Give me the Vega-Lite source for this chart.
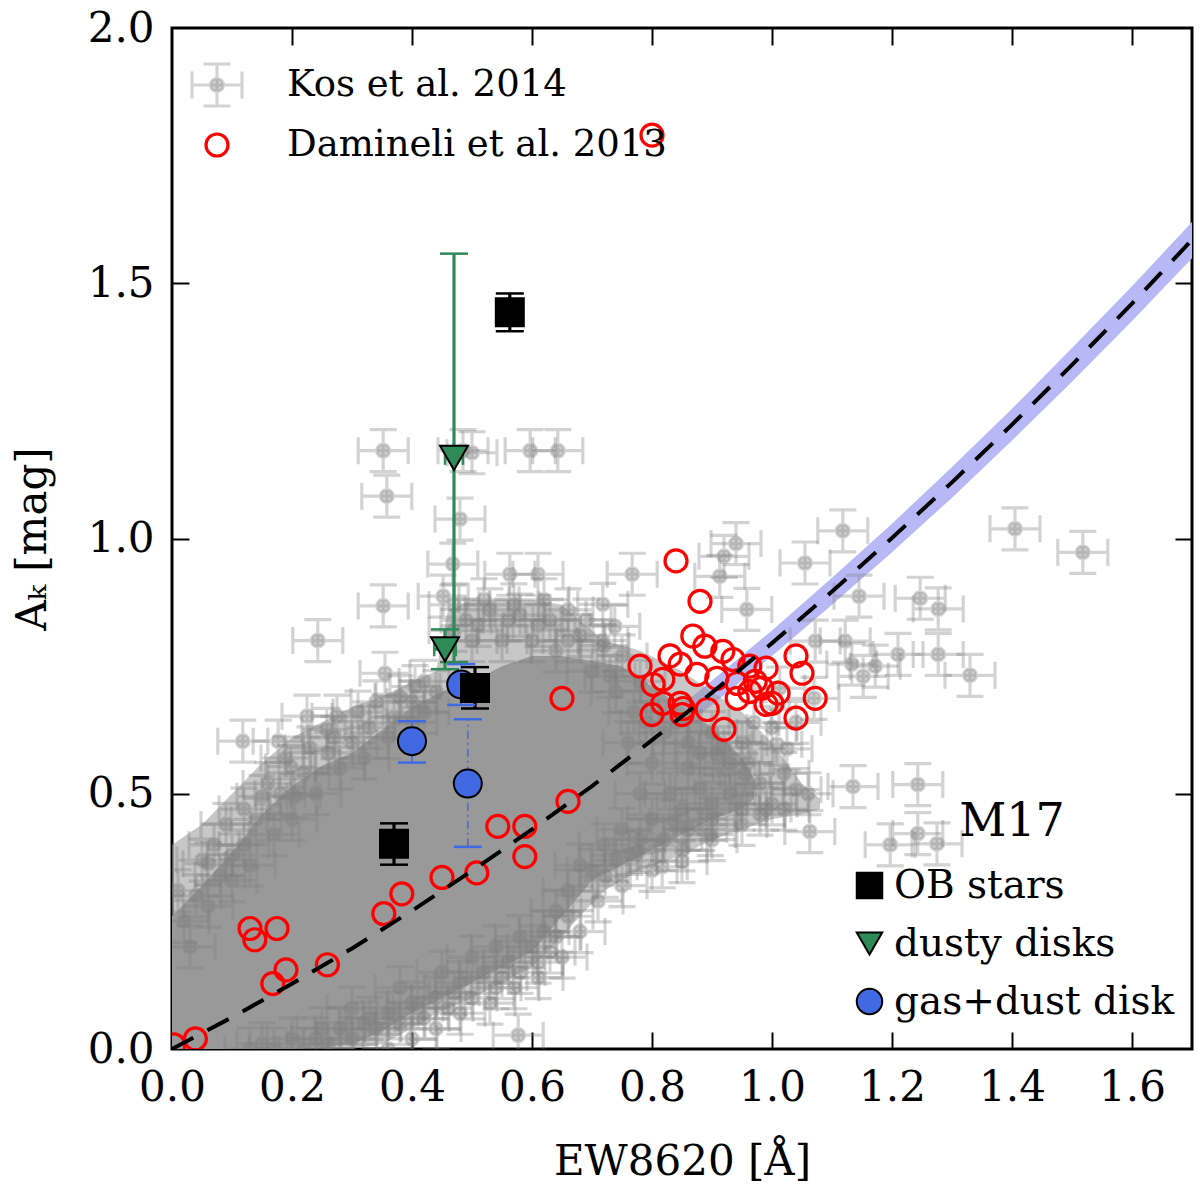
{
  "$schema": "https://vega.github.io/schema/vega-lite/v6.json",
  "width": 1020,
  "height": 1021,
  "autosize": "none",
  "padding": {"left": 172, "top": 28, "right": 8, "bottom": 141},
  "background": "white",
  "config": {
    "view": {"stroke": "black", "strokeWidth": 3},
    "font": "DejaVu Serif",
    "axis": {
      "domain": false, "grid": false,
      "labelFont": "DejaVu Serif", "labelFontSize": 42, "labelColor": "black",
      "labelFlush": false, "labelOverlap": false,
      "tickColor": "black", "tickWidth": 2, "tickSize": 17,
      "labelPadding": 18,
      "titleFont": "DejaVu Serif", "titleFontSize": 42, "titleFontWeight": "normal", "titleColor": "black"
    }
  },
  "datasets": {
    "band": [
      {"x": 0, "fit": 0, "lo": 0, "hi": 0.01},
      {"x": 0.1, "fit": 0.062, "lo": 0.05, "hi": 0.074},
      {"x": 0.2, "fit": 0.128, "lo": 0.115, "hi": 0.141},
      {"x": 0.3, "fit": 0.197, "lo": 0.183, "hi": 0.212},
      {"x": 0.4, "fit": 0.271, "lo": 0.255, "hi": 0.287},
      {"x": 0.5, "fit": 0.349, "lo": 0.331, "hi": 0.367},
      {"x": 0.6, "fit": 0.43, "lo": 0.411, "hi": 0.449},
      {"x": 0.7, "fit": 0.515, "lo": 0.495, "hi": 0.536},
      {"x": 0.8, "fit": 0.605, "lo": 0.583, "hi": 0.627},
      {"x": 0.9, "fit": 0.698, "lo": 0.674, "hi": 0.722},
      {"x": 1.0, "fit": 0.795, "lo": 0.77, "hi": 0.82},
      {"x": 1.1, "fit": 0.896, "lo": 0.87, "hi": 0.923},
      {"x": 1.2, "fit": 1.001, "lo": 0.973, "hi": 1.029},
      {"x": 1.3, "fit": 1.11, "lo": 1.08, "hi": 1.14},
      {"x": 1.4, "fit": 1.223, "lo": 1.192, "hi": 1.254},
      {"x": 1.5, "fit": 1.34, "lo": 1.307, "hi": 1.373},
      {"x": 1.6, "fit": 1.46, "lo": 1.426, "hi": 1.494},
      {"x": 1.7, "fit": 1.585, "lo": 1.549, "hi": 1.62}
    ],
    "halo": [
      {"x": 0.0, "lo": 0.0, "hi": 0.40},
      {"x": 0.05, "lo": 0.0, "hi": 0.44},
      {"x": 0.10, "lo": 0.0, "hi": 0.50},
      {"x": 0.15, "lo": 0.0, "hi": 0.56},
      {"x": 0.20, "lo": 0.0, "hi": 0.61},
      {"x": 0.25, "lo": 0.0, "hi": 0.64},
      {"x": 0.30, "lo": 0.0, "hi": 0.67},
      {"x": 0.35, "lo": 0.01, "hi": 0.69},
      {"x": 0.40, "lo": 0.04, "hi": 0.72},
      {"x": 0.44, "lo": 0.07, "hi": 0.74},
      {"x": 0.46, "lo": 0.08, "hi": 0.86},
      {"x": 0.50, "lo": 0.10, "hi": 0.88},
      {"x": 0.55, "lo": 0.13, "hi": 0.88},
      {"x": 0.60, "lo": 0.16, "hi": 0.88},
      {"x": 0.65, "lo": 0.22, "hi": 0.87},
      {"x": 0.68, "lo": 0.26, "hi": 0.84},
      {"x": 0.72, "lo": 0.31, "hi": 0.80},
      {"x": 0.78, "lo": 0.35, "hi": 0.78},
      {"x": 0.85, "lo": 0.38, "hi": 0.74},
      {"x": 0.90, "lo": 0.41, "hi": 0.70},
      {"x": 0.95, "lo": 0.43, "hi": 0.66},
      {"x": 1.00, "lo": 0.45, "hi": 0.60},
      {"x": 1.05, "lo": 0.46, "hi": 0.52},
      {"x": 1.08, "lo": 0.47, "hi": 0.49}
    ],
    "core": [
      {"x": 0.0, "lo": 0.0, "hi": 0.26},
      {"x": 0.05, "lo": 0.0, "hi": 0.32},
      {"x": 0.10, "lo": 0.0, "hi": 0.385},
      {"x": 0.15, "lo": 0.0, "hi": 0.46},
      {"x": 0.20, "lo": 0.0, "hi": 0.515},
      {"x": 0.25, "lo": 0.003, "hi": 0.555},
      {"x": 0.30, "lo": 0.01, "hi": 0.58},
      {"x": 0.35, "lo": 0.035, "hi": 0.625},
      {"x": 0.40, "lo": 0.07, "hi": 0.67},
      {"x": 0.45, "lo": 0.10, "hi": 0.70},
      {"x": 0.50, "lo": 0.13, "hi": 0.72},
      {"x": 0.55, "lo": 0.16, "hi": 0.75},
      {"x": 0.60, "lo": 0.19, "hi": 0.77},
      {"x": 0.65, "lo": 0.26, "hi": 0.77},
      {"x": 0.70, "lo": 0.33, "hi": 0.76},
      {"x": 0.75, "lo": 0.36, "hi": 0.75},
      {"x": 0.80, "lo": 0.39, "hi": 0.71},
      {"x": 0.85, "lo": 0.42, "hi": 0.67},
      {"x": 0.90, "lo": 0.45, "hi": 0.63},
      {"x": 0.95, "lo": 0.47, "hi": 0.57},
      {"x": 0.97, "lo": 0.49, "hi": 0.53}
    ],
    "pts": [
      {"src": "Kos et al. 2014", "x": 0.352, "y": 1.172},
      {"src": "Kos et al. 2014", "x": 0.485, "y": 1.172},
      {"src": "Kos et al. 2014", "x": 0.5, "y": 1.168},
      {"src": "Kos et al. 2014", "x": 0.597, "y": 1.172},
      {"src": "Kos et al. 2014", "x": 0.643, "y": 1.172},
      {"src": "Kos et al. 2014", "x": 0.358, "y": 1.083},
      {"src": "Kos et al. 2014", "x": 0.48, "y": 1.038},
      {"src": "Kos et al. 2014", "x": 0.468, "y": 0.95},
      {"src": "Kos et al. 2014", "x": 0.563, "y": 0.93},
      {"src": "Kos et al. 2014", "x": 0.61, "y": 0.93},
      {"src": "Kos et al. 2014", "x": 0.352, "y": 0.868},
      {"src": "Kos et al. 2014", "x": 0.452, "y": 0.887},
      {"src": "Kos et al. 2014", "x": 0.243, "y": 0.8},
      {"src": "Kos et al. 2014", "x": 0.355, "y": 0.736},
      {"src": "Kos et al. 2014", "x": 0.405, "y": 0.71},
      {"src": "Kos et al. 2014", "x": 0.225, "y": 0.652},
      {"src": "Kos et al. 2014", "x": 0.275, "y": 0.652},
      {"src": "Kos et al. 2014", "x": 0.118, "y": 0.603},
      {"src": "Kos et al. 2014", "x": 0.177, "y": 0.603},
      {"src": "Kos et al. 2014", "x": 0.718, "y": 0.871},
      {"src": "Kos et al. 2014", "x": 0.718, "y": 0.8},
      {"src": "Kos et al. 2014", "x": 1.405, "y": 1.019},
      {"src": "Kos et al. 2014", "x": 1.518, "y": 0.973},
      {"src": "Kos et al. 2014", "x": 1.118, "y": 1.015},
      {"src": "Kos et al. 2014", "x": 1.055, "y": 0.952},
      {"src": "Kos et al. 2014", "x": 1.145, "y": 0.887},
      {"src": "Kos et al. 2014", "x": 1.247, "y": 0.883},
      {"src": "Kos et al. 2014", "x": 1.277, "y": 0.862},
      {"src": "Kos et al. 2014", "x": 1.072, "y": 0.799},
      {"src": "Kos et al. 2014", "x": 1.122, "y": 0.799},
      {"src": "Kos et al. 2014", "x": 1.133, "y": 0.754},
      {"src": "Kos et al. 2014", "x": 1.152, "y": 0.73},
      {"src": "Kos et al. 2014", "x": 1.172, "y": 0.75},
      {"src": "Kos et al. 2014", "x": 1.21, "y": 0.773},
      {"src": "Kos et al. 2014", "x": 1.277, "y": 0.773},
      {"src": "Kos et al. 2014", "x": 1.33, "y": 0.732},
      {"src": "Kos et al. 2014", "x": 1.135, "y": 0.514},
      {"src": "Kos et al. 2014", "x": 1.243, "y": 0.518},
      {"src": "Kos et al. 2014", "x": 1.04, "y": 0.508},
      {"src": "Kos et al. 2014", "x": 1.063, "y": 0.426},
      {"src": "Kos et al. 2014", "x": 1.197, "y": 0.4},
      {"src": "Kos et al. 2014", "x": 1.243, "y": 0.422},
      {"src": "Kos et al. 2014", "x": 1.275, "y": 0.402},
      {"src": "Kos et al. 2014", "x": 0.767, "y": 0.93},
      {"src": "Kos et al. 2014", "x": 0.913, "y": 0.926},
      {"src": "Kos et al. 2014", "x": 0.958, "y": 0.861},
      {"src": "Kos et al. 2014", "x": 0.738, "y": 0.828},
      {"src": "Kos et al. 2014", "x": 1.008, "y": 0.597},
      {"src": "Kos et al. 2014", "x": 0.908, "y": 0.577},
      {"src": "Kos et al. 2014", "x": 0.955, "y": 0.538},
      {"src": "Kos et al. 2014", "x": 0.897, "y": 0.42},
      {"src": "Kos et al. 2014", "x": 0.763, "y": 0.383},
      {"src": "Kos et al. 2014", "x": 0.817, "y": 0.357},
      {"src": "Kos et al. 2014", "x": 0.85, "y": 0.367},
      {"src": "Kos et al. 2014", "x": 0.722, "y": 0.338},
      {"src": "Kos et al. 2014", "x": 0.577, "y": 0.027},
      {"src": "Kos et al. 2014", "x": 0.258, "y": 0.626},
      {"src": "Kos et al. 2014", "x": 0.15, "y": 0.495},
      {"src": "Kos et al. 2014", "x": 0.205, "y": 0.495},
      {"src": "Kos et al. 2014", "x": 0.06, "y": 0.363},
      {"src": "Kos et al. 2014", "x": 0.1, "y": 0.38},
      {"src": "Kos et al. 2014", "x": 0.198, "y": 0.553},
      {"src": "Kos et al. 2014", "x": 0.4, "y": 0.68},
      {"src": "Kos et al. 2014", "x": 0.777, "y": 0.387},
      {"src": "Kos et al. 2014", "x": 0.883, "y": 0.43},
      {"src": "Kos et al. 2014", "x": 0.837, "y": 0.446},
      {"src": "Kos et al. 2014", "x": 0.94, "y": 0.99},
      {"src": "Kos et al. 2014", "x": 0.92, "y": 0.965},
      {"src": "Kos et al. 2014", "x": 1.013, "y": 0.707},
      {"src": "Kos et al. 2014", "x": 1.04, "y": 0.64},
      {"src": "Kos et al. 2014", "x": 1.07, "y": 0.687},
      {"src": "Kos et al. 2014", "x": 1.025, "y": 0.588},
      {"src": "Kos et al. 2014", "x": 0.74, "y": 0.7},
      {"src": "Kos et al. 2014", "x": 0.77, "y": 0.66},
      {"src": "Kos et al. 2014", "x": 0.82, "y": 0.62},
      {"src": "Kos et al. 2014", "x": 0.86, "y": 0.6},
      {"src": "Kos et al. 2014", "x": 0.9, "y": 0.62},
      {"src": "Kos et al. 2014", "x": 0.95, "y": 0.6},
      {"src": "Kos et al. 2014", "x": 0.97, "y": 0.64},
      {"src": "Kos et al. 2014", "x": 1.0, "y": 0.63},
      {"src": "Kos et al. 2014", "x": 0.93, "y": 0.56},
      {"src": "Kos et al. 2014", "x": 0.86, "y": 0.55},
      {"src": "Kos et al. 2014", "x": 0.8, "y": 0.56},
      {"src": "Kos et al. 2014", "x": 0.76, "y": 0.6},
      {"src": "Kos et al. 2014", "x": 0.7, "y": 0.74},
      {"src": "Kos et al. 2014", "x": 0.66, "y": 0.8},
      {"src": "Kos et al. 2014", "x": 0.69, "y": 0.84},
      {"src": "Kos et al. 2014", "x": 0.63, "y": 0.84},
      {"src": "Kos et al. 2014", "x": 0.58, "y": 0.85},
      {"src": "Kos et al. 2014", "x": 0.53, "y": 0.86},
      {"src": "Kos et al. 2014", "x": 0.49, "y": 0.84},
      {"src": "Kos et al. 2014", "x": 0.47, "y": 0.82},
      {"src": "Kos et al. 2014", "x": 0.5, "y": 0.8},
      {"src": "Kos et al. 2014", "x": 0.55, "y": 0.8},
      {"src": "Kos et al. 2014", "x": 0.6, "y": 0.8},
      {"src": "Kos et al. 2014", "x": 0.64, "y": 0.78},
      {"src": "Kos et al. 2014", "x": 0.72, "y": 0.4},
      {"src": "Kos et al. 2014", "x": 0.75, "y": 0.43},
      {"src": "Kos et al. 2014", "x": 0.8, "y": 0.45},
      {"src": "Kos et al. 2014", "x": 0.85, "y": 0.47},
      {"src": "Kos et al. 2014", "x": 0.9, "y": 0.48},
      {"src": "Kos et al. 2014", "x": 0.95, "y": 0.47},
      {"src": "Kos et al. 2014", "x": 1.0, "y": 0.48},
      {"src": "Kos et al. 2014", "x": 0.78, "y": 0.5},
      {"src": "Kos et al. 2014", "x": 0.83, "y": 0.5},
      {"src": "Kos et al. 2014", "x": 0.88, "y": 0.51},
      {"src": "Kos et al. 2014", "x": 0.93, "y": 0.5},
      {"src": "Kos et al. 2014", "x": 0.98, "y": 0.46},
      {"src": "Kos et al. 2014", "x": 0.68, "y": 0.36},
      {"src": "Kos et al. 2014", "x": 0.66, "y": 0.31},
      {"src": "Kos et al. 2014", "x": 0.64, "y": 0.27},
      {"src": "Kos et al. 2014", "x": 0.15, "y": 0.01},
      {"src": "Kos et al. 2014", "x": 0.2, "y": 0.02},
      {"src": "Kos et al. 2014", "x": 0.24, "y": 0.02},
      {"src": "Kos et al. 2014", "x": 0.28, "y": 0.04},
      {"src": "Kos et al. 2014", "x": 0.32, "y": 0.05},
      {"src": "Kos et al. 2014", "x": 0.36, "y": 0.07},
      {"src": "Kos et al. 2014", "x": 0.4, "y": 0.09},
      {"src": "Kos et al. 2014", "x": 0.44, "y": 0.1},
      {"src": "Kos et al. 2014", "x": 0.48, "y": 0.13},
      {"src": "Kos et al. 2014", "x": 0.52, "y": 0.15},
      {"src": "Kos et al. 2014", "x": 0.56, "y": 0.17},
      {"src": "Kos et al. 2014", "x": 0.6, "y": 0.2},
      {"src": "Kos et al. 2014", "x": 0.62, "y": 0.23},
      {"src": "Kos et al. 2014", "x": 0.5, "y": 0.18},
      {"src": "Kos et al. 2014", "x": 0.45, "y": 0.15},
      {"src": "Kos et al. 2014", "x": 0.38, "y": 0.12},
      {"src": "Kos et al. 2014", "x": 0.3, "y": 0.08},
      {"src": "Kos et al. 2014", "x": 0.58, "y": 0.22},
      {"src": "Kos et al. 2014", "x": 0.54, "y": 0.2},
      {"src": "Kos et al. 2014", "x": 0.02, "y": 0.25},
      {"src": "Kos et al. 2014", "x": 0.04, "y": 0.3},
      {"src": "Kos et al. 2014", "x": 0.08, "y": 0.34},
      {"src": "Kos et al. 2014", "x": 0.12, "y": 0.4},
      {"src": "Kos et al. 2014", "x": 0.14, "y": 0.45},
      {"src": "Kos et al. 2014", "x": 0.18, "y": 0.5},
      {"src": "Kos et al. 2014", "x": 0.22, "y": 0.54},
      {"src": "Kos et al. 2014", "x": 0.26, "y": 0.58},
      {"src": "Kos et al. 2014", "x": 0.3, "y": 0.6},
      {"src": "Kos et al. 2014", "x": 0.33, "y": 0.63},
      {"src": "Kos et al. 2014", "x": 0.37, "y": 0.65},
      {"src": "Kos et al. 2014", "x": 0.42, "y": 0.66},
      {"src": "Kos et al. 2014", "x": 0.44, "y": 0.7},
      {"src": "Kos et al. 2014", "x": 0.28, "y": 0.55},
      {"src": "Kos et al. 2014", "x": 0.2, "y": 0.45},
      {"src": "Kos et al. 2014", "x": 0.1, "y": 0.33},
      {"src": "Kos et al. 2014", "x": 0.03, "y": 0.2},
      {"src": "Kos et al. 2014", "x": 0.01, "y": 0.31},
      {"src": "Kos et al. 2014", "x": 0.05, "y": 0.37},
      {"src": "Kos et al. 2014", "x": 0.07, "y": 0.4},
      {"src": "Kos et al. 2014", "x": 0.09, "y": 0.44},
      {"src": "Kos et al. 2014", "x": 0.12, "y": 0.47},
      {"src": "Kos et al. 2014", "x": 0.16, "y": 0.52},
      {"src": "Kos et al. 2014", "x": 0.19, "y": 0.57},
      {"src": "Kos et al. 2014", "x": 0.23, "y": 0.59},
      {"src": "Kos et al. 2014", "x": 0.27, "y": 0.61},
      {"src": "Kos et al. 2014", "x": 0.31, "y": 0.66},
      {"src": "Kos et al. 2014", "x": 0.34, "y": 0.68},
      {"src": "Kos et al. 2014", "x": 0.38, "y": 0.69},
      {"src": "Kos et al. 2014", "x": 0.42, "y": 0.72},
      {"src": "Kos et al. 2014", "x": 0.06, "y": 0.28},
      {"src": "Kos et al. 2014", "x": 0.13, "y": 0.36},
      {"src": "Kos et al. 2014", "x": 0.17, "y": 0.42},
      {"src": "Kos et al. 2014", "x": 0.24, "y": 0.5},
      {"src": "Kos et al. 2014", "x": 0.32, "y": 0.57},
      {"src": "Kos et al. 2014", "x": 0.36, "y": 0.61},
      {"src": "Kos et al. 2014", "x": 0.4, "y": 0.64},
      {"src": "Kos et al. 2014", "x": 0.47, "y": 0.87},
      {"src": "Kos et al. 2014", "x": 0.52, "y": 0.88},
      {"src": "Kos et al. 2014", "x": 0.57, "y": 0.87},
      {"src": "Kos et al. 2014", "x": 0.62, "y": 0.88},
      {"src": "Kos et al. 2014", "x": 0.66, "y": 0.86},
      {"src": "Kos et al. 2014", "x": 0.68, "y": 0.81},
      {"src": "Kos et al. 2014", "x": 0.51, "y": 0.83},
      {"src": "Kos et al. 2014", "x": 0.56, "y": 0.84},
      {"src": "Kos et al. 2014", "x": 0.61, "y": 0.83},
      {"src": "Kos et al. 2014", "x": 0.72, "y": 0.79},
      {"src": "Kos et al. 2014", "x": 0.75, "y": 0.77},
      {"src": "Kos et al. 2014", "x": 0.73, "y": 0.73},
      {"src": "Kos et al. 2014", "x": 0.78, "y": 0.72},
      {"src": "Kos et al. 2014", "x": 0.79, "y": 0.64},
      {"src": "Kos et al. 2014", "x": 0.84, "y": 0.64},
      {"src": "Kos et al. 2014", "x": 0.88, "y": 0.58},
      {"src": "Kos et al. 2014", "x": 0.92, "y": 0.59},
      {"src": "Kos et al. 2014", "x": 0.96, "y": 0.56},
      {"src": "Kos et al. 2014", "x": 1.02, "y": 0.54},
      {"src": "Kos et al. 2014", "x": 1.06, "y": 0.5},
      {"src": "Kos et al. 2014", "x": 0.98, "y": 0.52},
      {"src": "Kos et al. 2014", "x": 1.02, "y": 0.47},
      {"src": "Kos et al. 2014", "x": 0.9, "y": 0.45},
      {"src": "Kos et al. 2014", "x": 0.86, "y": 0.43},
      {"src": "Kos et al. 2014", "x": 0.82, "y": 0.41},
      {"src": "Kos et al. 2014", "x": 0.78, "y": 0.41},
      {"src": "Kos et al. 2014", "x": 0.74, "y": 0.37},
      {"src": "Kos et al. 2014", "x": 0.7, "y": 0.35},
      {"src": "Kos et al. 2014", "x": 0.13, "y": 0.0},
      {"src": "Kos et al. 2014", "x": 0.17, "y": 0.0},
      {"src": "Kos et al. 2014", "x": 0.22, "y": 0.0},
      {"src": "Kos et al. 2014", "x": 0.26, "y": 0.01},
      {"src": "Kos et al. 2014", "x": 0.3, "y": 0.02},
      {"src": "Kos et al. 2014", "x": 0.34, "y": 0.04},
      {"src": "Kos et al. 2014", "x": 0.38, "y": 0.05},
      {"src": "Kos et al. 2014", "x": 0.42, "y": 0.06},
      {"src": "Kos et al. 2014", "x": 0.46, "y": 0.08},
      {"src": "Kos et al. 2014", "x": 0.5, "y": 0.1},
      {"src": "Kos et al. 2014", "x": 0.54, "y": 0.12},
      {"src": "Kos et al. 2014", "x": 0.58, "y": 0.15},
      {"src": "Kos et al. 2014", "x": 0.61, "y": 0.17},
      {"src": "Kos et al. 2014", "x": 0.64, "y": 0.22},
      {"src": "Kos et al. 2014", "x": 0.66, "y": 0.26},
      {"src": "Kos et al. 2014", "x": 0.63, "y": 0.19},
      {"src": "Kos et al. 2014", "x": 0.55, "y": 0.14},
      {"src": "Kos et al. 2014", "x": 0.47, "y": 0.11},
      {"src": "Kos et al. 2014", "x": 0.41, "y": 0.08},
      {"src": "Kos et al. 2014", "x": 0.33, "y": 0.06},
      {"src": "Kos et al. 2014", "x": 0.25, "y": 0.04},
      {"src": "Kos et al. 2014", "x": 0.36, "y": 0.0},
      {"src": "Kos et al. 2014", "x": 0.4, "y": 0.02},
      {"src": "Kos et al. 2014", "x": 0.44, "y": 0.04},
      {"src": "Kos et al. 2014", "x": 0.48, "y": 0.07},
      {"src": "Kos et al. 2014", "x": 0.53, "y": 0.09},
      {"src": "Kos et al. 2014", "x": 0.57, "y": 0.12},
      {"src": "Kos et al. 2014", "x": 0.61, "y": 0.14},
      {"src": "Kos et al. 2014", "x": 0.65, "y": 0.18},
      {"src": "Kos et al. 2014", "x": 0.68, "y": 0.23},
      {"src": "Kos et al. 2014", "x": 0.71, "y": 0.29},
      {"src": "Kos et al. 2014", "x": 0.75, "y": 0.32},
      {"src": "Kos et al. 2014", "x": 0.8, "y": 0.35},
      {"src": "Kos et al. 2014", "x": 0.85, "y": 0.39},
      {"src": "Kos et al. 2014", "x": 0.9, "y": 0.41},
      {"src": "Kos et al. 2014", "x": 0.95, "y": 0.44},
      {"src": "Kos et al. 2014", "x": 0.99, "y": 0.47},
      {"src": "Damineli et al. 2013", "x": 0.003, "y": 0.008},
      {"src": "Damineli et al. 2013", "x": 0.039, "y": 0.02},
      {"src": "Damineli et al. 2013", "x": 0.13, "y": 0.236},
      {"src": "Damineli et al. 2013", "x": 0.138, "y": 0.214},
      {"src": "Damineli et al. 2013", "x": 0.175, "y": 0.236},
      {"src": "Damineli et al. 2013", "x": 0.19, "y": 0.155},
      {"src": "Damineli et al. 2013", "x": 0.168, "y": 0.128},
      {"src": "Damineli et al. 2013", "x": 0.259, "y": 0.165},
      {"src": "Damineli et al. 2013", "x": 0.353, "y": 0.265},
      {"src": "Damineli et al. 2013", "x": 0.383, "y": 0.304},
      {"src": "Damineli et al. 2013", "x": 0.45, "y": 0.336},
      {"src": "Damineli et al. 2013", "x": 0.508, "y": 0.345},
      {"src": "Damineli et al. 2013", "x": 0.543, "y": 0.436},
      {"src": "Damineli et al. 2013", "x": 0.588, "y": 0.436},
      {"src": "Damineli et al. 2013", "x": 0.588, "y": 0.377},
      {"src": "Damineli et al. 2013", "x": 0.66, "y": 0.485},
      {"src": "Damineli et al. 2013", "x": 0.65, "y": 0.687},
      {"src": "Damineli et al. 2013", "x": 0.84, "y": 0.956},
      {"src": "Damineli et al. 2013", "x": 0.88, "y": 0.877},
      {"src": "Damineli et al. 2013", "x": 0.868, "y": 0.809},
      {"src": "Damineli et al. 2013", "x": 0.78, "y": 0.75},
      {"src": "Damineli et al. 2013", "x": 0.83, "y": 0.77},
      {"src": "Damineli et al. 2013", "x": 0.847, "y": 0.754},
      {"src": "Damineli et al. 2013", "x": 0.888, "y": 0.789},
      {"src": "Damineli et al. 2013", "x": 0.918, "y": 0.779},
      {"src": "Damineli et al. 2013", "x": 0.935, "y": 0.763},
      {"src": "Damineli et al. 2013", "x": 0.963, "y": 0.75},
      {"src": "Damineli et al. 2013", "x": 0.99, "y": 0.746},
      {"src": "Damineli et al. 2013", "x": 1.04, "y": 0.77},
      {"src": "Damineli et al. 2013", "x": 1.05, "y": 0.736},
      {"src": "Damineli et al. 2013", "x": 0.818, "y": 0.724},
      {"src": "Damineli et al. 2013", "x": 0.802, "y": 0.714},
      {"src": "Damineli et al. 2013", "x": 0.875, "y": 0.734},
      {"src": "Damineli et al. 2013", "x": 0.908, "y": 0.726},
      {"src": "Damineli et al. 2013", "x": 0.942, "y": 0.716},
      {"src": "Damineli et al. 2013", "x": 0.972, "y": 0.72},
      {"src": "Damineli et al. 2013", "x": 0.983, "y": 0.707},
      {"src": "Damineli et al. 2013", "x": 1.01, "y": 0.697},
      {"src": "Damineli et al. 2013", "x": 1.072, "y": 0.687},
      {"src": "Damineli et al. 2013", "x": 0.818, "y": 0.677},
      {"src": "Damineli et al. 2013", "x": 0.847, "y": 0.677},
      {"src": "Damineli et al. 2013", "x": 0.852, "y": 0.667},
      {"src": "Damineli et al. 2013", "x": 0.8, "y": 0.655},
      {"src": "Damineli et al. 2013", "x": 0.85, "y": 0.655},
      {"src": "Damineli et al. 2013", "x": 0.892, "y": 0.665},
      {"src": "Damineli et al. 2013", "x": 0.99, "y": 0.675},
      {"src": "Damineli et al. 2013", "x": 1.0, "y": 0.677},
      {"src": "Damineli et al. 2013", "x": 1.04, "y": 0.648},
      {"src": "Damineli et al. 2013", "x": 0.92, "y": 0.626},
      {"src": "Damineli et al. 2013", "x": 0.942, "y": 0.687},
      {"src": "Damineli et al. 2013", "x": 0.963, "y": 0.7},
      {"src": "Damineli et al. 2013", "x": 0.8, "y": 1.79}
    ],
    "m17": [
      {"cls": "gas+dust disk", "x": 0.482, "y": 0.714, "ylo": 0.674, "yhi": 0.754},
      {"cls": "gas+dust disk", "x": 0.4, "y": 0.603, "ylo": 0.561, "yhi": 0.642},
      {"cls": "gas+dust disk", "x": 0.493, "y": 0.52, "ylo": 0.396, "yhi": 0.646},
      {"cls": "dusty disks", "x": 0.47, "y": 1.158, "ylo": 0.758, "yhi": 1.558, "xlo": 0.455, "xhi": 0.485},
      {"cls": "dusty disks", "x": 0.455, "y": 0.783, "ylo": 0.744, "yhi": 0.822, "xlo": 0.437, "xhi": 0.473},
      {"cls": "OB stars", "x": 0.563, "y": 1.443, "ylo": 1.406, "yhi": 1.48},
      {"cls": "OB stars", "x": 0.505, "y": 0.707, "ylo": 0.667, "yhi": 0.748},
      {"cls": "OB stars", "x": 0.37, "y": 0.402, "ylo": 0.361, "yhi": 0.442}
    ]
  },
  "layer": [
    {
      "data": {"name": "band"},
      "mark": {"type": "area", "color": "#b8b8f6", "opacity": 1, "clip": true},
      "encoding": {
        "x": {"field": "x", "type": "quantitative", "scale": {"domain": [0, 1.7], "nice": false, "zero": false},
          "axis": {"orient": "bottom", "values": [0, 0.2, 0.4, 0.6, 0.8, 1.0, 1.2, 1.4, 1.6], "format": ".1f", "title": "EW8620 [Å]", "titlePadding": 33, "ticks": false}},
        "y": {"field": "lo", "type": "quantitative", "scale": {"domain": [0, 2], "nice": false, "zero": false},
          "axis": {"orient": "left", "values": [0, 0.5, 1, 1.5, 2], "format": ".1f", "title": "Aₖ [mag]", "titlePadding": 33, "ticks": false}},
        "y2": {"field": "hi"}
      }
    },
    {
      "data": {"name": "halo"},
      "mark": {"type": "area", "color": "#999999", "opacity": 0.55, "clip": true},
      "encoding": {
        "x": {"field": "x", "type": "quantitative",
          "axis": {"orient": "top", "offset": -1021, "values": [0.2, 0.4, 0.6, 0.8, 1.0, 1.2, 1.4, 1.6], "labels": false, "title": null}},
        "y": {"field": "lo", "type": "quantitative",
          "axis": {"orient": "right", "offset": -1020, "values": [0.5, 1, 1.5], "labels": false, "title": null}},
        "y2": {"field": "hi"}
      }
    },
    {
      "data": {"name": "core"},
      "mark": {"type": "area", "color": "#999999", "opacity": 1, "clip": true},
      "encoding": {
        "x": {"field": "x", "type": "quantitative",
          "axis": {"orient": "bottom", "offset": -1021, "values": [0.2, 0.4, 0.6, 0.8, 1.0, 1.2, 1.4, 1.6], "labels": false, "title": null}},
        "y": {"field": "lo", "type": "quantitative",
          "axis": {"orient": "left", "offset": -1020, "values": [0.5, 1, 1.5], "labels": false, "title": null}},
        "y2": {"field": "hi"}
      }
    },
    {
      "data": {"name": "pts"},
      "mark": {"type": "point", "size": 2500, "strokeWidth": 3.2, "opacity": 1, "clip": true},
      "encoding": {
        "x": {"field": "x", "type": "quantitative", "axis": null},
        "y": {"field": "y", "type": "quantitative", "axis": null},
        "shape": {"field": "src", "type": "nominal",
          "scale": {"domain": ["Kos et al. 2014", "Damineli et al. 2013"],
            "range": ["M-1,0H1M0,-0.84V0.84M-1,-0.54V0.54M1,-0.54V0.54M-0.54,-0.84H0.54M-0.54,0.84H0.54M0.26,0A0.26,0.26,0,1,1,-0.26,0A0.26,0.26,0,1,1,0.26,0Z",
                      "M0.44,0A0.44,0.44,0,1,1,-0.44,0A0.44,0.44,0,1,1,0.44,0Z"]},
          "legend": {"orient": "none", "legendX": 18, "legendY": 30, "title": null, "labelFontSize": 37, "labelFont": "DejaVu Serif", "labelColor": "black", "labelLimit": 1000, "labelOffset": 43, "symbolSize": 2500, "symbolStrokeWidth": 3.2, "rowPadding": 5, "padding": 0}},
        "stroke": {"field": "src", "type": "nominal",
          "scale": {"domain": ["Kos et al. 2014", "Damineli et al. 2013"], "range": ["rgba(128,128,128,0.35)", "#ff0000"]},
          "legend": {"orient": "none", "legendX": 18, "legendY": 30, "title": null, "labelFontSize": 37, "labelFont": "DejaVu Serif", "labelColor": "black", "labelLimit": 1000, "labelOffset": 43, "symbolSize": 2500, "symbolStrokeWidth": 3.2, "rowPadding": 5, "padding": 0}},
        "fill": {"field": "src", "type": "nominal",
          "scale": {"domain": ["Kos et al. 2014", "Damineli et al. 2013"], "range": ["rgba(128,128,128,0.35)", "rgba(0,0,0,0)"]},
          "legend": {"orient": "none", "legendX": 18, "legendY": 30, "title": null, "labelFontSize": 37, "labelFont": "DejaVu Serif", "labelColor": "black", "labelLimit": 1000, "labelOffset": 43, "symbolSize": 2500, "symbolStrokeWidth": 3.2, "rowPadding": 5, "padding": 0}}
      }
    },
    {
      "data": {"name": "band"},
      "mark": {"type": "line", "color": "black", "strokeWidth": 4, "strokeDash": [24, 16], "clip": true},
      "encoding": {
        "x": {"field": "x", "type": "quantitative", "axis": null},
        "y": {"field": "fit", "type": "quantitative", "axis": null}
      }
    },
    {
      "data": {"name": "m17"},
      "transform": [{"filter": "datum.cls != 'gas+dust disk'"}],
      "mark": {"type": "rule", "strokeWidth": 3.2, "opacity": 1},
      "encoding": {
        "x": {"field": "x", "type": "quantitative", "axis": null},
        "y": {"field": "ylo", "type": "quantitative", "axis": null},
        "y2": {"field": "yhi"},
        "color": {"field": "cls", "type": "nominal", "scale": {"domain": ["OB stars", "dusty disks", "gas+dust disk"], "range": ["black", "#2e8b57", "#4169e1"]}, "legend": null}
      }
    },
    {
      "data": {"name": "m17"},
      "transform": [{"filter": "datum.cls == 'gas+dust disk'"}],
      "mark": {"type": "rule", "strokeWidth": 1.5, "strokeDash": [8, 4, 2, 4], "color": "#4169e1", "opacity": 1},
      "encoding": {
        "x": {"field": "x", "type": "quantitative", "axis": null},
        "y": {"field": "ylo", "type": "quantitative", "axis": null},
        "y2": {"field": "yhi"}
      }
    },
    {
      "data": {"name": "m17"},
      "transform": [{"fold": ["ylo", "yhi"], "as": ["k", "v"]}],
      "mark": {"type": "tick", "orient": "horizontal", "size": 28, "thickness": 2.5, "opacity": 1},
      "encoding": {
        "x": {"field": "x", "type": "quantitative", "axis": null},
        "y": {"field": "v", "type": "quantitative", "axis": null},
        "color": {"field": "cls", "type": "nominal", "scale": {"domain": ["OB stars", "dusty disks", "gas+dust disk"], "range": ["black", "#2e8b57", "#4169e1"]}, "legend": null}
      }
    },
    {
      "data": {"name": "m17"},
      "transform": [{"filter": "isValid(datum.xlo)"}],
      "mark": {"type": "rule", "strokeWidth": 3, "color": "#2e8b57", "opacity": 1},
      "encoding": {
        "x": {"field": "xlo", "type": "quantitative", "axis": null},
        "x2": {"field": "xhi"},
        "y": {"field": "y", "type": "quantitative", "axis": null}
      }
    },
    {
      "data": {"name": "m17"},
      "transform": [{"filter": "isValid(datum.xlo)"}, {"fold": ["xlo", "xhi"], "as": ["k", "v"]}],
      "mark": {"type": "tick", "orient": "vertical", "size": 14, "thickness": 2.5, "color": "#2e8b57", "opacity": 1},
      "encoding": {
        "x": {"field": "v", "type": "quantitative", "axis": null},
        "y": {"field": "y", "type": "quantitative", "axis": null}
      }
    },
    {
      "data": {"name": "m17"},
      "mark": {"type": "point", "size": 784, "strokeWidth": 2, "opacity": 1, "filled": true},
      "encoding": {
        "x": {"field": "x", "type": "quantitative", "axis": null},
        "y": {"field": "y", "type": "quantitative", "axis": null},
        "fill": {"field": "cls", "type": "nominal",
          "scale": {"domain": ["OB stars", "dusty disks", "gas+dust disk"], "range": ["black", "#2e8b57", "#4169e1"]},
          "legend": {"orient": "none", "legendX": 678, "legendY": 772, "title": "M17", "titleFontSize": 46, "titleFont": "DejaVu Serif", "titleFontWeight": "normal", "titleColor": "black", "titleAnchor": "middle", "titlePadding": 20, "labelFontSize": 39, "labelFont": "DejaVu Serif", "labelColor": "black", "labelLimit": 1000, "labelOffset": 5, "symbolSize": 650, "symbolStrokeWidth": 2, "rowPadding": 18, "padding": 0}},
        "shape": {"field": "cls", "type": "nominal",
          "scale": {"domain": ["OB stars", "dusty disks", "gas+dust disk"], "range": ["square", "triangle-down", "circle"]},
          "legend": {"orient": "none", "legendX": 678, "legendY": 772, "title": "M17", "titleFontSize": 46, "titleFont": "DejaVu Serif", "titleFontWeight": "normal", "titleColor": "black", "titleAnchor": "middle", "titlePadding": 20, "labelFontSize": 39, "labelFont": "DejaVu Serif", "labelColor": "black", "labelLimit": 1000, "labelOffset": 5, "symbolSize": 650, "symbolStrokeWidth": 2, "rowPadding": 18, "padding": 0}},
        "stroke": {"field": "cls", "type": "nominal",
          "scale": {"domain": ["OB stars", "dusty disks", "gas+dust disk"], "range": ["black", "black", "black"]},
          "legend": {"orient": "none", "legendX": 678, "legendY": 772, "title": "M17", "titleFontSize": 46, "titleFont": "DejaVu Serif", "titleFontWeight": "normal", "titleColor": "black", "titleAnchor": "middle", "titlePadding": 20, "labelFontSize": 39, "labelFont": "DejaVu Serif", "labelColor": "black", "labelLimit": 1000, "labelOffset": 5, "symbolSize": 650, "symbolStrokeWidth": 2, "rowPadding": 18, "padding": 0}}
      }
    }
  ],
  "resolve": {
    "scale": {"shape": "independent", "fill": "independent", "stroke": "independent", "color": "independent"},
    "axis": {"x": "independent", "y": "independent"}
  }
}
